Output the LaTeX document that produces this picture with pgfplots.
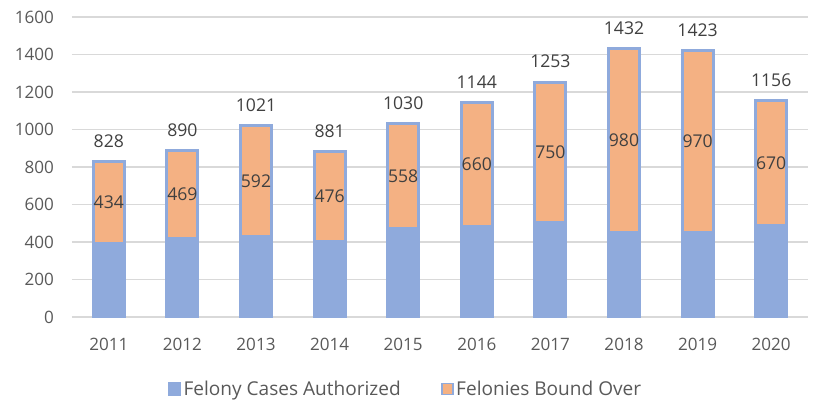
\documentclass[border=0pt]{standalone}
\usepackage{pgfplots}
\pgfplotsset{compat=1.18}
\usepackage{pgfplotstable}
\usepackage{fontspec}
\setmainfont{Open Sans}
\definecolor{barblue}{HTML}{8FAADC}
\definecolor{barorange}{HTML}{F4B183}
\definecolor{gridgray}{HTML}{D9D9D9}
\definecolor{ticktext}{HTML}{595959}
\definecolor{labeltext}{HTML}{404040}
\pgfplotstableread{
x year total base bound mid
0 2011 828 394 434 611
1 2012 890 421 469 655.5
2 2013 1021 429 592 725
3 2014 881 405 476 643
4 2015 1030 472 558 751
5 2016 1144 484 660 814
6 2017 1253 503 750 878
7 2018 1432 452 980 942
8 2019 1423 453 970 938
9 2020 1156 486 670 821
}\datatable
\begin{document}
\begin{tikzpicture}
\begin{axis}[
  at={(0,0)}, anchor=south west,
  scale only axis,
  width=552pt, height=225pt,
  xmin=-0.5, xmax=9.5,
  ymin=0, ymax=1600,
  ytick={0,200,...,1600},
  xtick=data,
  xticklabels={2011,2012,2013,2014,2015,2016,2017,2018,2019,2020},
  axis line style={draw=none},
  axis x line*=bottom,
  x axis line style={draw=gridgray, line width=0.9pt},
  tick style={draw=none},
  ymajorgrids,
  grid style={gridgray, line width=0.9pt},
  font=\fontsize{12.8pt}{15pt}\selectfont,
  ticklabel style={text=ticktext, font=\fontsize{12.8pt}{15pt}\selectfont},
  /pgf/number format/assume math mode=true,
  /pgf/number format/1000 sep={},
  yticklabel style={xshift=-10pt},
  xticklabel style={yshift=-12pt},
  legend columns=2,
  legend style={at={(0.124,0)}, anchor=west, yshift=-54pt, draw=none, fill=none,
    font=\fontsize{14.3pt}{16pt}\selectfont, text=ticktext,
    /tikz/every even column/.append style={column sep=28pt}},
  legend cell align=left,
]
\addlegendimage{area legend, legend image code/.code={\fill[barblue] (0pt,-4.8pt) rectangle (9.6pt,4.8pt);}}
\addlegendentry{Felony Cases Authorized}
\addlegendimage{area legend, legend image code/.code={\filldraw[fill=barorange, draw=barblue, line width=1.4pt] (0.7pt,-4.1pt) rectangle (8.9pt,4.1pt);}}
\addlegendentry{Felonies Bound Over}
% full bars (orange with blue border) to the total
\addplot[ybar, bar shift=0pt, bar width=23.25pt, fill=barorange, draw=barblue, line width=2.25pt, forget plot,
  nodes near coords, point meta=explicit symbolic,
  every node near coord/.append style={text=labeltext, yshift=6pt, font=\fontsize{13.2pt}{15pt}\selectfont}]
  table[x=x, y=total, meta=total] {\datatable};
% blue base part
\addplot[ybar, bar shift=0pt, bar width=23.25pt, fill=barblue, draw=barblue, line width=2.25pt, forget plot]
  table[x=x, y=base] {\datatable};
% labels for bound over values
\addplot[only marks, mark=none, forget plot,
  nodes near coords, point meta=explicit symbolic,
  every node near coord/.append style={anchor=center, text=labeltext, font=\fontsize{13.2pt}{15pt}\selectfont}]
  table[x=x, y=mid, meta=bound] {\datatable};
\end{axis}
\pgfresetboundingbox
\path[use as bounding box] (-54pt,-65.25pt) rectangle (576pt,237.75pt);
\end{tikzpicture}
\end{document}
